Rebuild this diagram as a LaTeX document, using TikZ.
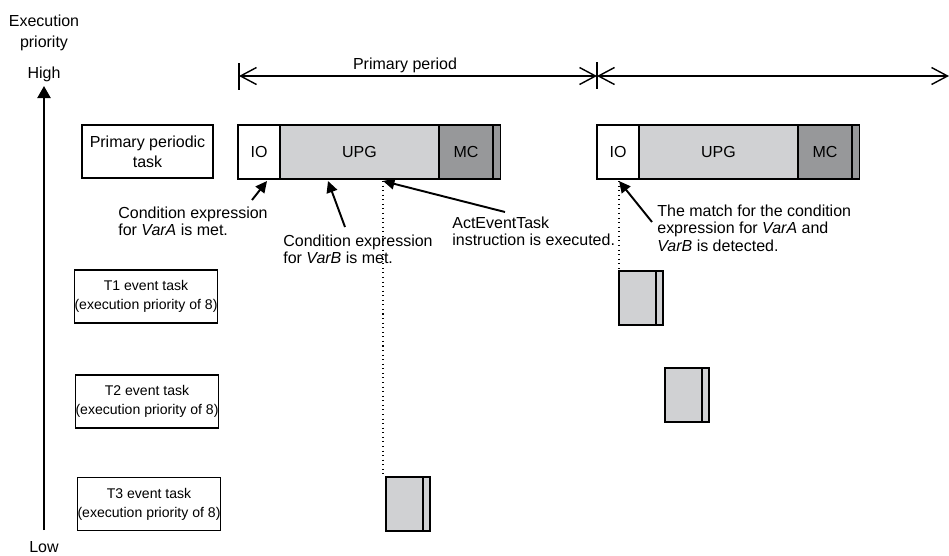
\documentclass[tikz,border=0pt]{standalone}
\usepackage{fontspec}
\setmainfont{Liberation Sans}
\usetikzlibrary{arrows.meta}
\definecolor{upggray}{HTML}{D0D1D3}
\definecolor{mcgray}{HTML}{97989A}
\tikzset{
    lbl/.style={draw, line width=0.6pt, align=center, inner sep=0pt, minimum height=1.06cm},
    seg/.style={draw, line width=0.9pt, inner sep=0pt, outer sep=0pt, minimum height=1.08cm, anchor=north west},
    ann/.style={align=left, anchor=north west, inner sep=0pt, font=\fontsize{9.1}{9.7}\selectfont},
    pointer/.style={line width=1.1pt, -{Triangle[length=0.23cm, width=0.22cm]}},
    dimline/.style={line width=0.8pt, {Straight Barb[length=0.32cm, width=0.34cm]}-{Straight Barb[length=0.32cm, width=0.34cm]}},
}
\begin{document}
\begin{tikzpicture}[x=0.02cm, y=-0.02cm, font=\fontsize{9.1}{11.4}\selectfont]
            \useasboundingbox (0,0) rectangle (949,555);
            % Priority axis
            \node[anchor=north, inner sep=0pt, align=center, font=\fontsize{9.1}{11.9}\selectfont] (prio) at (44,15) {Execution\\priority};
            \node[anchor=north, inner sep=0pt] (high) at (44,67) {High};
            \node[anchor=north, inner sep=0pt] (low) at (44,541) {Low};
            \coordinate (axlow) at (44,530);
            \coordinate (axhigh) at (44,86);
            \draw[line width=1.2pt, -{Triangle[length=0.24cm, width=0.26cm]}] (axlow) -- (axhigh);
            % Primary period
            \coordinate (pp0) at (239,76);
            \coordinate (pp1) at (597,76);
            \coordinate (pp2) at (949,76);
            \draw[line width=0.8pt] (pp0) ++(0,-13) -- ++(0,27);
            \draw[line width=0.8pt] (pp1) ++(0,-14) -- ++(0,27);
            \draw[dimline] (pp0) -- (pp1);
            \draw[dimline] (pp1) -- (pp2);
            \node (period) at (405,65) {Primary period};
            % Task labels
            \node[lbl, minimum width=2.62cm] (ppt) at (147.5,151.5) {Primary periodic\\task};
            \foreach \n/\y/\xx in {1/296.5/146, 2/401.5/147, 3/504/149}
                \node[lbl, minimum width=2.84cm, font=\fontsize{8}{10.8}\selectfont] (t\n) at (\xx,\y) {T\n{} event task\\(execution priority of 8)};
            % Primary periodic task blocks
            \foreach \x/\n in {238/1, 597/2} {
                \node[seg, minimum width=0.84cm] (io\n) at (\x,125) {IO};
                \node[seg, fill=upggray, minimum width=3.18cm] (upg\n) at (io\n.north east) {UPG};
                \node[seg, fill=mcgray, minimum width=1.08cm] (mc\n) at (upg\n.north east) {MC};
                \node[seg, fill=mcgray, minimum width=0.15cm] (end\n) at (mc\n.north east) {};
            }
            % Event task blocks
            \foreach \n/\x/\y in {1/619/271, 2/665/368, 3/386/477} {
                \node[seg, fill=upggray, minimum width=0.74cm] (ev\n) at (\x,\y) {};
                \node[seg, fill=upggray, minimum width=0.14cm] (evend\n) at (ev\n.north east) {};
            }
            % Annotations
            \node[ann] (annA) at (118,207) {Condition expression\\for \textit{VarA} is met.};
            \node[ann] (annB) at (283,235) {Condition expression\\for \textit{VarB} is met.};
            \node[ann] (annC) at (452,217) {ActEventTask\\instruction is executed.};
            \node[ann] (annD) at (657,205) {The match for the condition\\expression for \textit{VarA} and\\\textit{VarB} is detected.};
            \coordinate (tipA) at (267,181);
            \coordinate (tipB) at (328,181);
            \coordinate (tipC) at (383,181);
            \coordinate (tipD) at (619,181);
            \draw[dotted, line width=0.6pt] (tipC) -- (tipC |- ev3.north);
            \draw[dotted, line width=0.6pt] (tipD) -- (tipD |- ev1.north);
            \coordinate (endA) at (252,200);
            \coordinate (endB) at (345,227);
            \coordinate (endC) at (505,212);
            \coordinate (endD) at (652,222);
            \draw[pointer] (endA) -- (tipA);
            \draw[pointer] (endB) -- (tipB);
            \draw[pointer] (endC) -- (tipC);
            \draw[pointer] (endD) -- (tipD);
        \end{tikzpicture}
\end{document}
